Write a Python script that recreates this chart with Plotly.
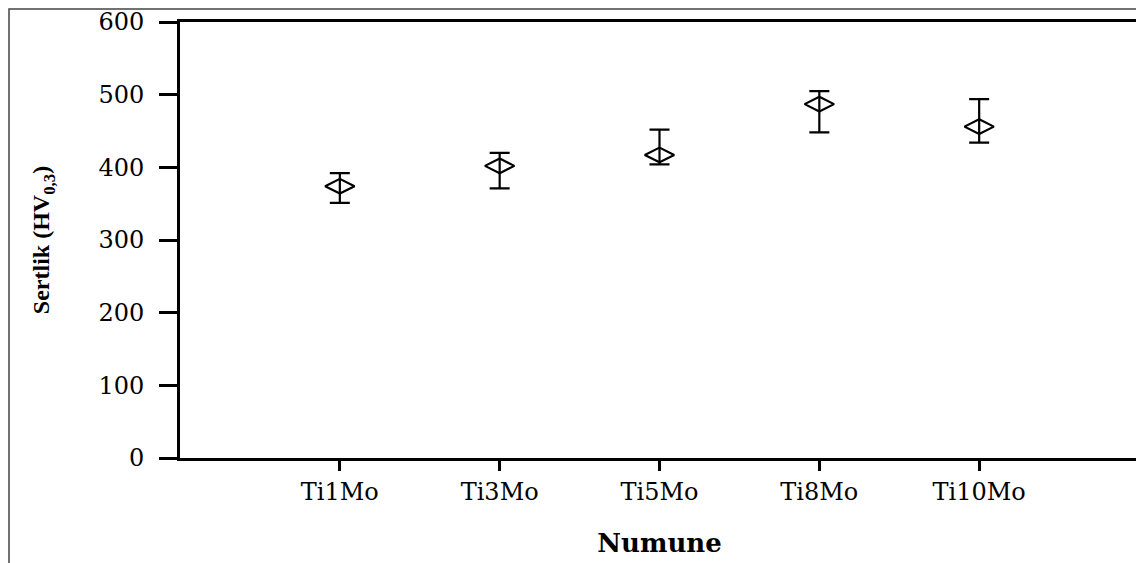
import plotly.graph_objects as go

# Data
categories = ["Ti1Mo", "Ti3Mo", "Ti5Mo", "Ti8Mo", "Ti10Mo"]
hardness = [374, 402, 417, 487, 456]
err_plus = [18, 18, 35, 18, 38]
err_minus = [23, 31, 13, 39, 22]
y_ticks = [0, 100, 200, 300, 400, 500, 600]

x_pos = list(range(len(categories)))

fig = go.Figure()
fig.add_trace(go.Scatter(
    x=x_pos, y=hardness, mode="markers",
    marker=dict(symbol="diamond-wide-open", size=21, color="black",
                line=dict(width=2.2, color="black")),
    error_y=dict(type="data", symmetric=False, array=err_plus,
                 arrayminus=err_minus, color="black", thickness=2.2, width=10),
    showlegend=False,
))

serif = "DejaVu Serif"
# page body adds an 8px offset; figure sized so the plot lands where the reference has it
fig.update_layout(
    width=1136, height=555,
    margin=dict(l=172, r=5, t=14, b=105, autoexpand=False),
    paper_bgcolor="white", plot_bgcolor="white",
    font=dict(family=serif, color="black"),
    xaxis=dict(
        range=[-1, 5], tickmode="array", tickvals=x_pos, ticktext=categories,
        showgrid=False, zeroline=False, automargin=False,
        showline=True, linecolor="black", linewidth=3, mirror=True,
        ticks="outside", ticklen=10, tickwidth=3, tickcolor="black",
        tickfont=dict(family=serif, size=24, color="black"),
        title=dict(text="<b>Numune</b>", standoff=30,
                   font=dict(family=serif, size=26, color="black")),
    ),
    yaxis=dict(
        range=[0, 600], tickmode="array", tickvals=y_ticks,
        showgrid=False, zeroline=False, automargin=False,
        showline=True, linecolor="black", linewidth=3, mirror=True,
        ticks="outside", ticklen=18, tickwidth=3, tickcolor="black",
        ticklabelstandoff=10,
        tickfont=dict(family=serif, size=24, color="black"),
        title=dict(text="<b>Sertlik (HV<sub>0,3</sub>)</b>", standoff=42,
                   font=dict(family="Liberation Serif", size=24, color="black")),
    ),
    shapes=[
        dict(type="rect", xref="paper", yref="paper",
             x0=-0.1783, x1=1.0021, y0=-0.3, y1=1.0298,
             line=dict(color="#444444", width=1.5), layer="below"),
    ],
)

fig.write_html("out.html")
